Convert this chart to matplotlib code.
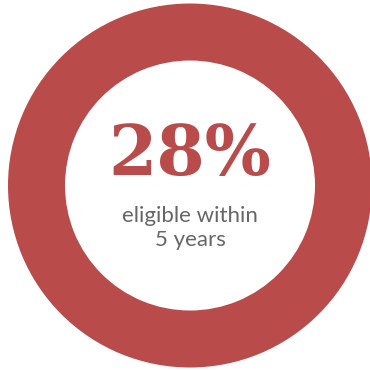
import matplotlib.pyplot as plt

share = [1]
pct_label = "28%"
caption = "eligible within\n5 years"
ring_color = "#b94b4b"

fig = plt.figure(figsize=(3.7, 3.7), dpi=100)
ax = fig.add_axes([0, 0, 1, 1])

ax.pie(share, colors=[ring_color], center=(190, 185.5), radius=182,
       wedgeprops=dict(width=57, edgecolor="none"), frame=True)
ax.set_xlim(0, 370)
ax.set_ylim(370, 0)
ax.set_aspect("equal")
ax.axis("off")

ax.text(190, 156, pct_label, ha="center", va="center", fontsize=50,
        fontweight="bold", family="DejaVu Serif", color=ring_color)
ax.text(190, 228, caption, ha="center", va="center", fontsize=16,
        family="Lato", color="#666666", linespacing=1.25)

fig.savefig("out.png", dpi=100)
